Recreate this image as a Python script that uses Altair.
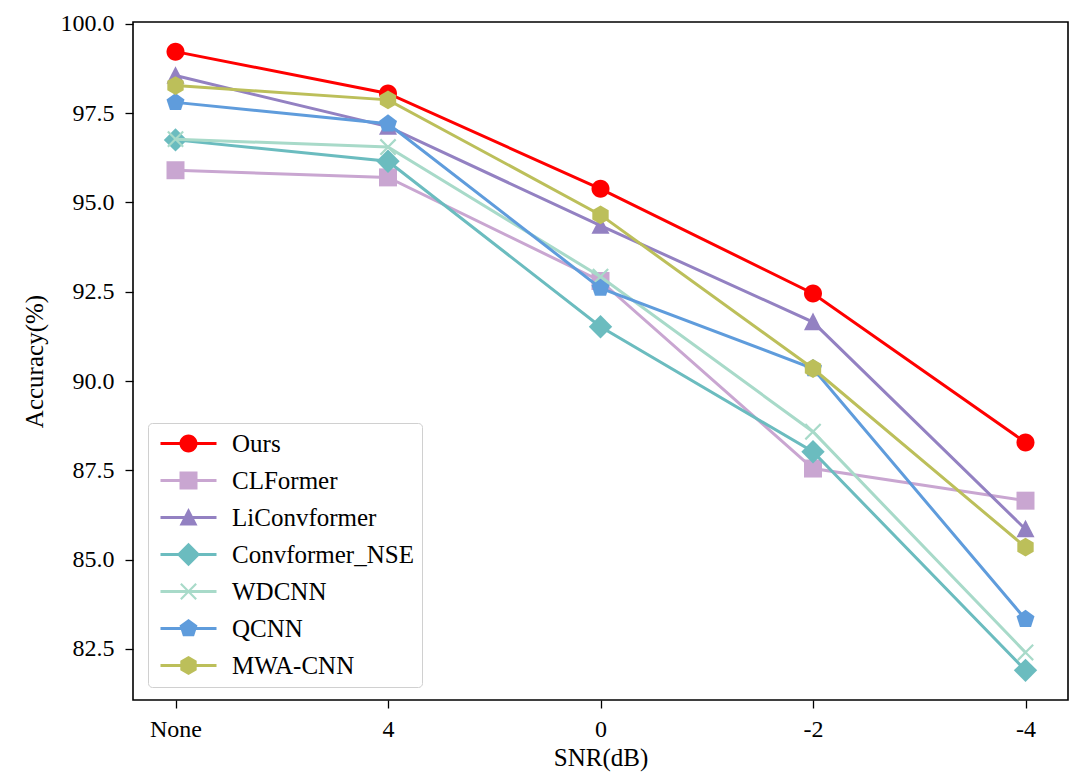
import math
import altair as alt
import pandas as pd

# ---------------- data ----------------
snr = ["None", "4", "0", "-2", "-4"]
models = ["Ours", "CLFormer", "LiConvformer", "Convformer_NSE", "WDCNN", "QCNN", "MWA-CNN"]
ours = [99.22, 98.05, 95.38, 92.45, 88.28]
clformer = [95.90, 95.70, 92.80, 87.55, 86.65]
liconvformer = [98.55, 97.12, 94.35, 91.65, 85.85]
convformer_nse = [96.75, 96.15, 91.52, 88.02, 81.90]
wdcnn = [96.77, 96.55, 92.92, 88.58, 82.40]
qcnn = [97.80, 97.20, 92.60, 90.35, 83.33]
mwacnn = [98.27, 97.87, 94.65, 90.35, 85.35]
values = [ours, clformer, liconvformer, convformer_nse, wdcnn, qcnn, mwacnn]
colors = ["#ff0000", "#c9a6d1", "#9381c2", "#6bbcbf", "#a8dac9", "#5f9cdc", "#bcbf5a"]

rows = []
for m, vals in zip(models, values):
    for s, v in zip(snr, vals):
        rows.append({"model": m, "snr": s, "acc": v})
df = pd.DataFrame(rows)

# ---------------- marker paths ----------------
def fmt(v):
    return f"{v:.3f}".rstrip("0").rstrip(".") if abs(v) > 1e-9 else "0"

def poly(pts):
    area = sum(pts[i][0] * pts[(i + 1) % len(pts)][1] - pts[(i + 1) % len(pts)][0] * pts[i][1]
               for i in range(len(pts)))
    if area < 0:
        pts = pts[::-1]
    return "M" + " L".join(f"{fmt(x)},{fmt(y)}" for x, y in pts) + " Z"

def circle(cx, R):
    return (f"M{fmt(cx + R)},0 A{fmt(R)},{fmt(R)} 0 1,1 {fmt(cx - R)},0 "
            f"A{fmt(R)},{fmt(R)} 0 1,1 {fmt(cx + R)},0 Z")

def regular(n, r, cx, k):
    return [(cx + k * r * math.cos(math.radians(-90 + 360 * i / n)),
             k * r * math.sin(math.radians(-90 + 360 * i / n))) for i in range(n)]

def marker(name, cx=0.0, k=1.0):
    if name == "Ours":
        return circle(cx, k * 1.0)
    if name == "CLFormer":
        h = k * 1.0
        return poly([(cx - h, -h), (cx + h, -h), (cx + h, h), (cx - h, h)])
    if name == "LiConvformer":
        return poly([(cx, -k * 1.05), (cx + k * 1.0, k * 0.9), (cx - k * 1.0, k * 0.9)])
    if name == "Convformer_NSE":
        d = k * 1.3
        return poly([(cx, -d), (cx + d, 0), (cx, d), (cx - d, 0)])
    if name == "WDCNN":
        r = k * 0.85
        n = k * 0.12 * 0.7071
        a = poly([(cx - r + n, -r - n), (cx + r + n, r - n), (cx + r - n, r + n), (cx - r - n, -r + n)])
        b = poly([(cx - r - n, r - n), (cx + r - n, -r - n), (cx + r + n, -r + n), (cx - r + n, r + n)])
        return a + " " + b
    if name == "QCNN":
        return poly(regular(5, 1.05, cx, k))
    return poly(regular(6, 1.05, cx, k))

plot_paths = [marker(m) for m in models]

LEG_SIZE = 256  # 8 px per unit
line_t = 0.18
def legend_path(m):
    line = poly([(-1, -line_t), (6, -line_t), (6, line_t), (-1, line_t)])
    return line + " " + marker(m, cx=2.5, k=9 / 8)

legend_paths = [legend_path(m) for m in models]

FONT = "Liberation Serif"
TICK_FS = 24
TEXT_FS = 25

x_enc = alt.X("snr:N", sort=snr, scale=alt.Scale(type="point", padding=0.2),
              axis=alt.Axis(title="SNR(dB)", labelAngle=0))
y_enc = alt.Y("acc:Q", scale=alt.Scale(domain=[81.07, 100.05], nice=False, zero=False),
              axis=alt.Axis(title="Accuracy(%)", values=[82.5, 85, 87.5, 90, 92.5, 95, 97.5, 100],
                            format=".1f"))
color_scale = alt.Scale(domain=models, range=colors)
shape_scale = alt.Scale(domain=models, range=plot_paths)

legend = alt.Legend(
    title=None, orient="none", legendX=15, legendY=401,
    labelFont=FONT, labelFontSize=TEXT_FS, labelColor="black", labelOffset=51, labelLimit=400,
    padding=8, rowPadding=11, symbolSize=LEG_SIZE, symbolStrokeWidth=0,
    symbolOpacity=1, fillColor="white", strokeColor="#d0d0d0", cornerRadius=4,
)

base = alt.Chart(df)
layers = []
for m in models:
    sub = base.transform_filter(alt.datum.model == m)
    layers.append(sub.mark_line(strokeWidth=3).encode(
        x=x_enc, y=y_enc, color=alt.Color("model:N", scale=color_scale, legend=None)))
    layers.append(sub.mark_point(filled=True, size=324, opacity=1, strokeWidth=0).encode(
        x=x_enc, y=y_enc,
        color=alt.Color("model:N", scale=color_scale, legend=None),
        shape=alt.Shape("model:N", scale=shape_scale, legend=None)))

# legend-only layer (draws no marks; its scales carry the legend symbols)
legend_layer = base.transform_filter("false").mark_point(
    filled=True, size=LEG_SIZE, opacity=1, strokeWidth=0
).encode(
    x=x_enc, y=y_enc,
    color=alt.Color("model:N", scale=color_scale, legend=legend),
    shape=alt.Shape("model:N", scale=alt.Scale(domain=models, range=legend_paths), legend=legend),
)

chart = alt.layer(*layers, legend_layer).resolve_scale(
    shape="independent", color="independent"
).properties(
    width=935, height=678,
    padding={"left": 125, "top": 14, "right": 4, "bottom": 78},
    autosize=alt.AutoSizeParams(type="none"),
).configure(font=FONT).configure_view(
    stroke="black", strokeWidth=1.6
).configure_axis(
    grid=False, domain=False, tickColor="black", tickSize=8, tickWidth=1.3,
    labelFont=FONT, labelFontSize=TICK_FS, labelColor="black",
    titleFont=FONT, titleFontSize=TEXT_FS, titleColor="black", titleFontWeight="normal",
).configure_axisX(labelPadding=9, titlePadding=4).configure_axisY(labelPadding=11, titlePadding=13)

chart.save("out.html", embed_options={"renderer": "svg", "actions": False})
